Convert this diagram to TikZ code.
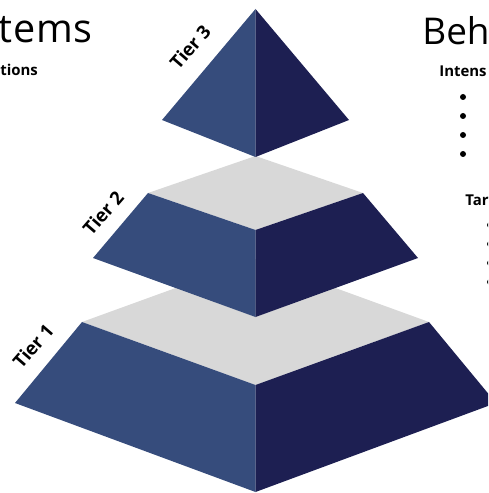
\documentclass[tikz,border=0pt]{standalone}
\usepackage{fontspec}
\setmainfont{Open Sans}
\definecolor{tierleft}{RGB}{54,76,124}
\definecolor{tierright}{RGB}{29,31,82}
\definecolor{tiertop}{RGB}{216,216,216}

\begin{document}
\begin{tikzpicture}[
		x=0.02cm, y=-0.02cm,
		leftface/.style={fill=tierleft},
		rightface/.style={fill=tierright},
		topface/.style={fill=tiertop},
		tierlabel/.style={font=\bfseries\fontsize{10.5}{12}\selectfont, rotate=49, inner sep=0pt},
		heading/.style={font=\fontsize{21}{25}\selectfont, anchor=base west, inner sep=0pt},
		subheading/.style={font=\bfseries\fontsize{8.5}{10}\selectfont, anchor=base west, inner sep=0pt}
		]
		\useasboundingbox (0,0) rectangle (488,493);
		\clip (0,0) rectangle (488,493);
		
		% tier 1
		\fill[topface] (82,322) -- (255.5,259) -- (429,322) -- (255.5,385) -- cycle;
		\fill[leftface] (82,322) -- (255.5,385) -- (255.5,492) -- (15,403) -- cycle;
		\fill[rightface] (255.5,385) -- (429,322) -- (496,403) -- (255.5,492) -- cycle;
		% tier 2
		\fill[topface] (148,193) -- (255.5,156) -- (363,193) -- (255.5,230) -- cycle;
		\fill[leftface] (148,193) -- (255.5,230) -- (255.5,317) -- (93,258) -- cycle;
		\fill[rightface] (255.5,230) -- (363,193) -- (418,258) -- (255.5,317) -- cycle;
		% tier 3
		\fill[leftface] (255.5,9) -- (255.5,157) -- (162,120) -- cycle;
		\fill[rightface] (255.5,9) -- (349,120) -- (255.5,157) -- cycle;
		
		\node[tierlabel] (tier3) at (190,47) {Tier 3};
		\node[tierlabel] (tier2) at (103,213) {Tier 2};
		\node[tierlabel] (tier1) at (33,346) {Tier 1};
		
		\node[heading, font=\fontsize{22.5}{26}\selectfont] (systems) at (-2,43) {\addfontfeature{LetterSpace=2}tems};
		\node[subheading] (actions) at (0,76) {tions};
		\node[heading] (behaviour) at (422,45) {Beh};
		\node[subheading] (intensity) at (439,77) {Intens};
		\node[subheading] (target) at (465,205) {Tar};
		
		\foreach \y in {97,116,135,154}
			\fill (463,\y) circle (3);
		\foreach \y in {225,244,263,282}
			\fill (490,\y) circle (3);
	\end{tikzpicture}
\end{document}
